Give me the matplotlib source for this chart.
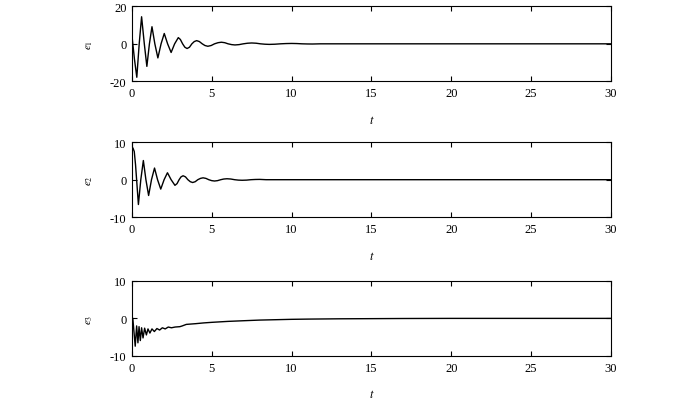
import matplotlib
matplotlib.use("Agg")
from matplotlib import pyplot as plt

plt.rcParams["font.family"] = ["Liberation Serif", "DejaVu Serif"]
plt.rcParams["mathtext.fontset"] = "stix"
plt.rcParams["axes.unicode_minus"] = False

# values
t1 = [0, 0.15, 0.3, 0.45, 0.6, 0.77, 0.93, 1.09, 1.25, 1.43, 1.62, 1.82, 2.02,
      2.23, 2.45, 2.67, 2.9, 3.03, 3.17, 3.31, 3.45, 3.6, 3.75, 3.9, 4.05, 4.22,
      4.4, 4.57, 4.75, 4.96, 5.17, 5.39, 5.6, 5.81, 6.02, 6.24, 6.45, 6.71, 6.97,
      7.24, 7.5, 7.78, 8.05, 8.33, 8.6, 8.95, 9.3, 9.65, 10.0, 10.33, 10.65,
      10.98, 11.3, 11.8, 12.5, 30]
e1 = [4, -8, -17.8, 0, 14.4, 0, -12, 0, 9.1, 0, -7.5, 0, 5.5,
      0, -4.6, 0, 3.3, 2.3, 0, -1.8, -2.5, -1.8, 0, 1.2, 1.7, 1.2,
      0, -0.9, -1.3, -0.9, 0, 0.6, 0.85, 0.6, 0, -0.42, -0.6, -0.42, 0,
      0.32, 0.45, 0.32, 0, -0.21, -0.3, -0.21, 0, 0.14, 0.2, 0.14, 0,
      -0.07, -0.1, 0, 0, 0]

t2 = [0, 0.06, 0.14, 0.22, 0.4, 0.55, 0.71, 0.87, 1.04, 1.22, 1.41, 1.6, 1.8,
      2.01, 2.22, 2.45, 2.69, 2.82, 2.95, 3.07, 3.2, 3.35, 3.5, 3.65, 3.8, 3.96,
      4.12, 4.29, 4.45, 4.63, 4.81, 4.99, 5.17, 5.36, 5.56, 5.75, 5.95, 6.19,
      6.43, 6.66, 6.9, 7.18, 7.45, 7.73, 8.0, 8.4, 9.0, 30]
e2 = [8.7, 8.4, 7.5, 4.0, -6.6, 0, 5.1, 0, -4.2, 0, 3.1, 0, -2.5,
      0, 1.85, 0, -1.5, -1.05, 0, 0.75, 1.05, 0.75, 0, -0.53, -0.75, -0.53,
      0, 0.35, 0.5, 0.35, 0, -0.25, -0.35, -0.25, 0, 0.18, 0.25, 0.18,
      0, -0.11, -0.15, -0.11, 0, 0.06, 0.08, 0, 0, 0]

t3 = [0, 0.05, 0.2, 0.29, 0.37, 0.44, 0.52, 0.6, 0.69, 0.79, 0.9, 1.0, 1.12,
      1.25, 1.4, 1.56, 1.73, 1.9, 2.08, 2.27, 2.47, 2.7, 3.0, 3.15, 3.4, 4.0,
      4.5, 5.0, 6.0, 7.0, 8.0, 9.0, 10.0, 11.0, 12.0, 13.0, 15.0, 17.0, 20.0, 30]
e3 = [0.3, 0.0, -7.4, -2.0, -6.5, -2.2, -5.9, -2.5, -5.2, -2.6, -4.4, -2.8, -3.9,
      -2.8, -3.5, -2.7, -3.1, -2.5, -2.8, -2.3, -2.5, -2.3, -2.2, -2.0, -1.6, -1.4,
      -1.2, -1.05, -0.8, -0.62, -0.45, -0.35, -0.25, -0.19, -0.15, -0.11, -0.07,
      -0.03, 0, 0]

series = [(t1, e1, r"$e_1$", [-20, 0, 20]),
          (t2, e2, r"$e_2$", [-10, 0, 10]),
          (t3, e3, r"$e_3$", [-10, 0, 10])]
xticks = [0, 5, 10, 15, 20, 25, 30]

fig = plt.figure(figsize=(7, 4.02), dpi=100)
bottoms = [0.795, 0.457, 0.112]

for (t, e, name, yt), b in zip(series, bottoms):
    ax = fig.add_axes([0.1886, b, 0.684, 0.187])
    ax.plot(t, e, color="k", linewidth=1.0)
    ax.set_xlim(0, 30)
    ax.set_ylim(yt[0], yt[-1])
    ax.set_xticks(xticks)
    ax.set_yticks(yt)
    ax.tick_params(direction="in", top=True, right=True, length=3.5,
                   width=0.8, labelsize=9, pad=4)
    for s in ax.spines.values():
        s.set_linewidth(0.8)
    ax.set_xlabel(r"$t$", fontsize=9)
    ax.xaxis.set_label_coords(0.5, -0.43)
    ax.set_ylabel(name, fontsize=8)
    ax.yaxis.set_label_coords(-0.077, 0.5)

fig.savefig("out.png", dpi=100)
